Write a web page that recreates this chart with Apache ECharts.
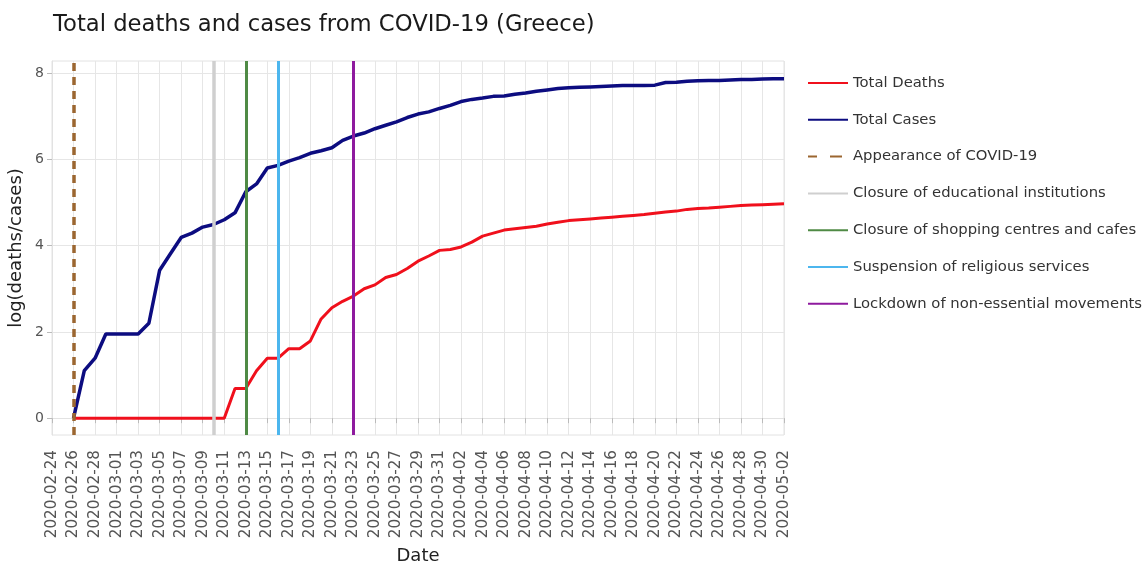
<!DOCTYPE html>
<html>
<head>
<meta charset="utf-8">
<script src="https://cdn.jsdelivr.net/npm/echarts@6/dist/echarts.min.js"></script>
<style>
html,body{margin:0;padding:0;background:#fff;}
#chart{width:1143px;height:565px;}
</style>
</head>
<body>
<div id="chart"></div>
<script>
// Axis categories (every day from 2020-02-24 to 2020-05-02)
const dates = [
 "2020-02-24","2020-02-25","2020-02-26","2020-02-27","2020-02-28","2020-02-29",
 "2020-03-01","2020-03-02","2020-03-03","2020-03-04","2020-03-05","2020-03-06","2020-03-07","2020-03-08","2020-03-09","2020-03-10",
 "2020-03-11","2020-03-12","2020-03-13","2020-03-14","2020-03-15","2020-03-16","2020-03-17","2020-03-18","2020-03-19","2020-03-20",
 "2020-03-21","2020-03-22","2020-03-23","2020-03-24","2020-03-25","2020-03-26","2020-03-27","2020-03-28","2020-03-29","2020-03-30","2020-03-31",
 "2020-04-01","2020-04-02","2020-04-03","2020-04-04","2020-04-05","2020-04-06","2020-04-07","2020-04-08","2020-04-09","2020-04-10",
 "2020-04-11","2020-04-12","2020-04-13","2020-04-14","2020-04-15","2020-04-16","2020-04-17","2020-04-18","2020-04-19","2020-04-20",
 "2020-04-21","2020-04-22","2020-04-23","2020-04-24","2020-04-25","2020-04-26","2020-04-27","2020-04-28","2020-04-29","2020-04-30",
 "2020-05-01","2020-05-02"
];
// Y tick labels
const yTicks = [0, 2, 4, 6, 8];
// Series start date
const seriesStart = "2020-02-26";
// log(total cases), daily from 2020-02-26
const logCases = [
 0.00,1.10,1.39,1.95,1.95,1.95,1.95,2.20,3.43,3.81,4.19,4.29,4.43,4.49,4.60,4.76,
 5.25,5.43,5.80,5.86,5.96,6.04,6.14,6.20,6.27,6.44,6.54,6.61,6.71,6.79,6.87,6.97,
 7.05,7.10,7.18,7.25,7.34,7.39,7.42,7.46,7.47,7.51,7.54,7.58,7.61,7.64,7.66,7.67,
 7.68,7.69,7.70,7.71,7.71,7.71,7.72,7.78,7.79,7.81,7.82,7.83,7.83,7.84,7.85,7.85,
 7.86,7.87,7.87
];
// log(total deaths), daily from 2020-02-26
const logDeaths = [
 0,0,0,0,0,0,0,0,0,0,0,0,0,0,0,0.69,
 0.69,1.10,1.39,1.39,1.61,1.61,1.79,2.30,2.56,2.71,2.83,3.00,3.09,3.26,3.33,3.47,
 3.64,3.76,3.89,3.91,3.97,4.08,4.22,4.29,4.36,4.39,4.42,4.45,4.50,4.54,4.58,4.60,
 4.62,4.64,4.66,4.68,4.70,4.72,4.75,4.78,4.80,4.84,4.86,4.87,4.89,4.91,4.93,4.94,
 4.95,4.96,4.97
];
// Events (vertical lines)
const eventNames = [
 "Appearance of COVID-19",
 "Closure of educational institutions",
 "Closure of shopping centres and cafes",
 "Suspension of religious services",
 "Lockdown of non-essential movements"
];
const eventDates = ["2020-02-26","2020-03-10","2020-03-13","2020-03-16","2020-03-23"];
const eventColors = ["#9b6630","#cfcfcf","#4f8a45","#4cb6ee","#8e1a9e"];
const eventWidths = [3.5,3.5,3,3,3];
const eventTypes = [[8,6],"solid","solid","solid","solid"];

const startIdx = dates.indexOf(seriesStart);
const toPairs = arr => arr.map((v,i)=>[dates[startIdx+i], v]);

const FONT = "DejaVu Sans";
const LINE_ICON = "path://M0,0 H40 V2 H0 Z";
const DASH_ICON = "path://M0,0 H9 V2 H0 Z M22,0 H34 V2 H22 Z M40,1 L40,1";

const series = [
 {name:"Total Deaths", type:"line", data:toPairs(logDeaths), symbol:"none",
  lineStyle:{color:"#f0101c", width:3}, itemStyle:{color:"#f0101c"}, z:2},
 {name:"Total Cases", type:"line", data:toPairs(logCases), symbol:"none",
  lineStyle:{color:"#0c0c80", width:3.5}, itemStyle:{color:"#0c0c80"}, z:2}
];
eventNames.forEach((n,i)=>{
 series.push({
  name:n, type:"line", data:[], symbol:"none", z:5,
  lineStyle:{color:eventColors[i], width:2, type:eventTypes[i]},
  itemStyle:{color:eventColors[i]},
  markLine:{
   silent:true, symbol:["none","none"], label:{show:false},
   lineStyle:{color:eventColors[i], width:eventWidths[i], type:eventTypes[i]},
   emphasis:{disabled:true},
   data:[{xAxis:eventDates[i]}],
   animation:false
  }
 });
});

const legendData = ["Total Deaths","Total Cases"].concat(eventNames).map((n,i)=>({
 name:n, icon: i===2 ? DASH_ICON : LINE_ICON
}));

const chart = echarts.init(document.getElementById("chart"), null, {renderer:"canvas"});
chart.setOption({
 animation:false,
 backgroundColor:"#fff",
 title:{text:"Total deaths and cases from COVID-19 (Greece)", left:48, top:9,
  textStyle:{fontFamily:FONT, fontSize:22.7, fontWeight:"normal", color:"#1a1a1a"}},
 legend:{
  orient:"vertical", left:808, top:74, padding:0, itemWidth:40, itemHeight:2.2, itemGap:18.8,
  textStyle:{fontFamily:FONT, fontSize:14.8, color:"#333", lineHeight:18},
  data:legendData
 },
 grid:{left:52, right:359, top:61, bottom:130, show:true, borderColor:"#e2e2e2", borderWidth:1,
  containLabel:false, outerBoundsMode:"none"},
 xAxis:{
  type:"category", data:dates, boundaryGap:false,
  name:"Date", nameLocation:"middle", nameGap:112,
  nameTextStyle:{fontFamily:FONT, fontSize:18, color:"#222"},
  axisLine:{show:true, lineStyle:{color:"#e2e2e2"}},
  axisTick:{show:true, interval:1, length:5, lineStyle:{color:"#bbb"}},
  axisLabel:{interval:1, rotate:90, fontFamily:FONT, fontSize:15.2, color:"#555", margin:15},
  splitLine:{show:true, interval:1, lineStyle:{color:"#e6e6e6", width:1}}
 },
 yAxis:{
  type:"value", min:-0.39, max:8.28,
  name:"log(deaths/cases)", nameLocation:"middle", nameGap:27, nameRotate:90, nameMoveOverlap:false,
  nameTextStyle:{fontFamily:FONT, fontSize:18, color:"#222"},
  axisLine:{show:true, lineStyle:{color:"#e2e2e2"}},
  axisTick:{show:true, length:5, lineStyle:{color:"#bbb"}, customValues:yTicks},
  axisLabel:{fontFamily:FONT, fontSize:14, color:"#555", margin:8, customValues:yTicks},
  splitLine:{show:true, lineStyle:{color:"#e6e6e6", width:1}}
 },
 series:series
});
</script>
</body>
</html>
